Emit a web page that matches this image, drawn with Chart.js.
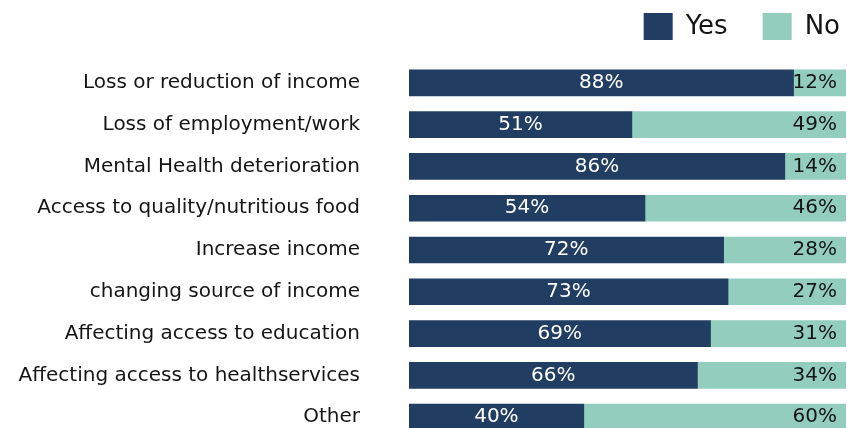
<!DOCTYPE html>
<html>
<head>
<meta charset="utf-8">
<script src="https://cdn.jsdelivr.net/npm/chart.js@4.4.1/dist/chart.umd.min.js"></script>
<style>
  html, body { margin: 0; padding: 0; background: #ffffff; overflow: hidden; }
  #chart { display: block; }
</style>
</head>
<body>
<canvas id="chart" width="847" height="440"></canvas>
<script>
const categories = [
  'Loss or reduction of income',
  'Loss of employment/work',
  'Mental Health deterioration',
  'Access to quality/nutritious food',
  'Increase income',
  'changing source of income',
  'Affecting access to education',
  'Affecting access to healthservices',
  'Other'
];
const yesValues = [88, 51, 86, 54, 72, 73, 69, 66, 40];
const noValues  = [12, 49, 14, 46, 28, 27, 31, 34, 60];
const seriesNames = ['Yes', 'No'];

const FONT = "'DejaVu Sans', sans-serif";
const YES_COLOR = '#213d61';
const NO_COLOR = '#93cdbe';
const TEXT_COLOR = '#151515';

// Percentage labels inside each segment: centred on "Yes", right-aligned on "No".
const valueLabels = {
  id: 'valueLabels',
  afterDatasetsDraw(chart) {
    const ctx = chart.ctx;
    ctx.save();
    ctx.font = '20px ' + FONT;
    ctx.textBaseline = 'middle';
    chart.data.datasets.forEach((ds, di) => {
      const meta = chart.getDatasetMeta(di);
      meta.data.forEach((bar, i) => {
        const { x, y, base } = bar.getProps(['x', 'y', 'base'], true);
        const text = ds.data[i] + '%';
        if (di === 0) {
          ctx.fillStyle = '#ffffff';
          ctx.textAlign = 'center';
          ctx.fillText(text, (base + x) / 2, y);
        } else {
          ctx.fillStyle = TEXT_COLOR;
          ctx.textAlign = 'right';
          ctx.fillText(text, x - 9, y);
        }
      });
    });
    ctx.restore();
  }
};

// Keeps the legend compact in the top-right corner, above the bars.
const legendPlacement = {
  id: 'legendPlacement',
  beforeLayout(chart) {
    const lg = chart.legend;
    if (lg && !lg.$placed) {
      const fit = lg.fit;
      lg.fit = function () { fit.call(this); this.height = 62; };
      lg.$placed = true;
    }
  },
  afterLayout(chart) {
    const lg = chart.legend;
    if (!lg) return;
    lg.left += 29; lg.right += 29;
    lg.top -= 22; lg.bottom -= 22;
  }
};

new Chart(document.getElementById('chart'), {
  type: 'bar',
  data: {
    labels: categories,
    datasets: [
      { label: seriesNames[0], data: yesValues, backgroundColor: YES_COLOR, borderWidth: 0, barThickness: 26 },
      { label: seriesNames[1], data: noValues,  backgroundColor: NO_COLOR,  borderWidth: 0, barThickness: 26 }
    ]
  },
  options: {
    indexAxis: 'y',
    responsive: false,
    animation: false,
    layout: { padding: { top: 0, right: 1, bottom: 2, left: 0 } },
    scales: {
      x: { stacked: true, min: 0, max: 100, display: false },
      y: {
        stacked: true,
        grid: { display: false, drawTicks: false },
        border: { display: false },
        ticks: {
          color: TEXT_COLOR,
          padding: 49,
          font: { family: FONT, size: 20 }
        },
        afterFit(scale) {
          // fixed label column; the label gap must not shrink the bar area vertically
          scale.width = 409;
          scale.paddingTop = 0;
          scale.paddingBottom = 0;
        }
      }
    },
    plugins: {
      legend: {
        position: 'top',
        align: 'end',
        labels: {
          boxWidth: 29,
          boxHeight: 29,
          padding: 35,
          color: TEXT_COLOR,
          font: { family: FONT, size: 26 }
        }
      },
      tooltip: { enabled: false }
    }
  },
  plugins: [valueLabels, legendPlacement]
});
</script>
</body>
</html>
